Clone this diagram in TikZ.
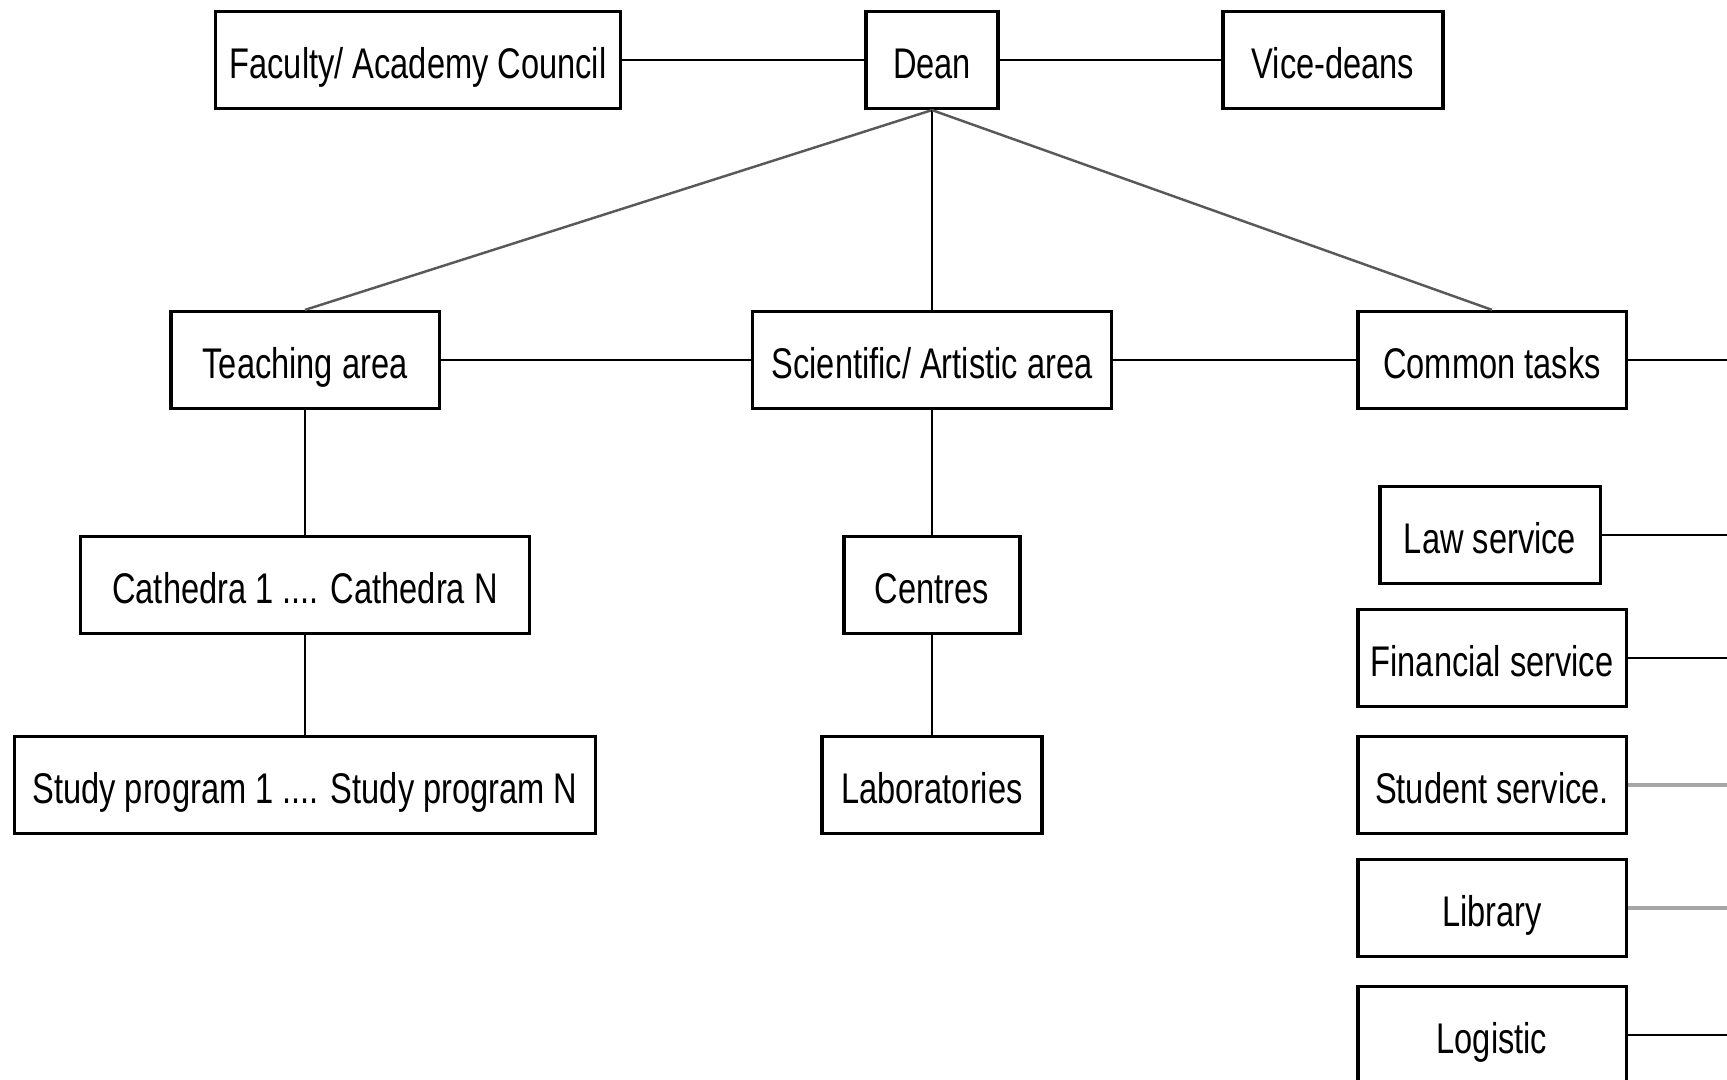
\documentclass[tikz,border=0pt]{standalone}
\usepackage{fontspec}
\setmainfont[FakeStretch=0.76]{Liberation Sans}

\tikzset{
  unit/.style={draw, line width=0.9pt, minimum height=0.97cm, inner sep=0pt,
    text height=1.12em, text depth=0.08em, font=\fontsize{12.2}{14}\selectfont},
  link/.style={line width=0.7pt},
  diag/.style={line width=0.7pt, draw=black!65},
  pale/.style={line width=0.9pt, draw=black!35}
}

\begin{document}
\begin{tikzpicture}[x=0.01cm,y=-0.01cm]
\useasboundingbox (0,0) rectangle (1727,1080);
\coordinate (rim) at (1727,0);

% top row
\node[unit, minimum width=4.04cm] (council) at (418,60) {Faculty/ Academy Council};
\node[unit, minimum width=1.32cm] (dean) at (932,60) {Dean};
\node[unit, minimum width=2.20cm] (vice) at (1333,60) {Vice-deans};
\draw[link] (council) -- (dean);
\draw[link] (dean) -- (vice);

% areas
\node[unit, minimum width=2.68cm] (teach) at (305,360) {Teaching area};
\node[unit, minimum width=3.59cm] (sci) at (932,360) {Scientific/ Artistic area};
\node[unit, minimum width=2.68cm] (common) at (1492,360) {Common tasks};
\draw[diag] (dean.south) -- (teach.north);
\draw[link] (dean) -- (sci);
\draw[diag] (dean.south) -- (common.north);
\draw[link] (teach) -- (sci);
\draw[link] (sci) -- (common);
\draw[link] (common.east) -- (common.east -| rim);

% teaching branch
\node[unit, minimum width=4.48cm] (cath) at (305,585) {Cathedra 1 .... Cathedra N};
\node[unit, minimum width=5.80cm] (study) at (305,785) {Study program 1 .... Study program N};
\draw[link] (teach) -- (cath);
\draw[link] (cath) -- (study);

% scientific branch
\node[unit, minimum width=1.76cm] (centres) at (932,585) {Centres};
\node[unit, minimum width=2.20cm] (labs) at (932,785) {Laboratories};
\draw[link] (sci) -- (centres);
\draw[link] (centres) -- (labs);

% services
\node[unit, minimum width=2.20cm] (law) at (1490,535) {Law service};
\node[unit, minimum width=2.68cm] (fin) at (1492,658) {Financial service};
\node[unit, minimum width=2.68cm] (stud) at (1492,785) {Student service.};
\node[unit, minimum width=2.68cm] (lib) at (1492,908) {Library};
\node[unit, minimum width=2.68cm] (logi) at (1492,1035) {Logistic};
\draw[link] (law.east) -- (law.east -| rim);
\draw[link] (fin.east) -- (fin.east -| rim);
\draw[pale] (stud.east) -- (stud.east -| rim);
\draw[pale] (lib.east) -- (lib.east -| rim);
\draw[link] (logi.east) -- (logi.east -| rim);

\end{tikzpicture}
\end{document}
